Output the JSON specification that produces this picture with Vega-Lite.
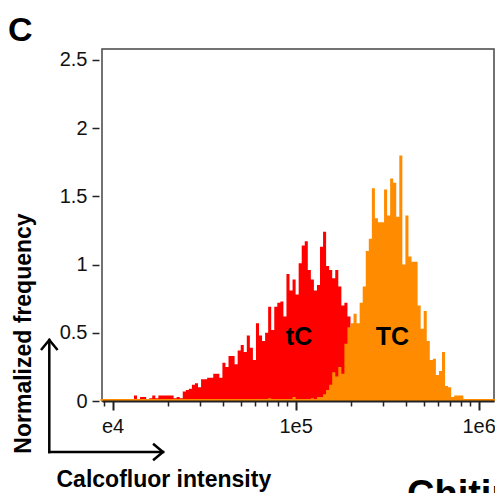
{
  "$schema": "https://vega.github.io/schema/vega-lite/v6.json",
  "width": 392,
  "height": 352,
  "autosize": {"type": "none"},
  "padding": {"left": 102, "top": 49, "right": 1, "bottom": 92},
  "background": "white",
  "title": {"text": "C", "anchor": "start", "frame": "group", "orient": "top", "dx": -94, "dy": 35, "offset": 9, "baseline": "alphabetic", "fontSize": 34, "font": "Liberation Sans", "fontWeight": "bold", "color": "#000"},
  "config": {"view": {"stroke": "#444", "strokeWidth": 1.5}, "font": "Liberation Sans", "axis": {"grid": false}},
  "resolve": {"axis": {"x": "independent", "y": "independent"}},
  "datasets": {
    "hist": [
      {"x": 8577, "tC": 0, "TC": 0.015},
      {"x": 13082, "tC": 0.04, "TC": 0.015},
      {"x": 13594, "tC": 0, "TC": 0.015},
      {"x": 14125, "tC": 0.03, "TC": 0.015},
      {"x": 15252, "tC": 0, "TC": 0.015},
      {"x": 15849, "tC": 0.02, "TC": 0.015},
      {"x": 16469, "tC": 0.04, "TC": 0.015},
      {"x": 17113, "tC": 0.02, "TC": 0.015},
      {"x": 17783, "tC": 0.04, "TC": 0.015},
      {"x": 21544, "tC": 0.02, "TC": 0.015},
      {"x": 22387, "tC": 0.03, "TC": 0.015},
      {"x": 23263, "tC": 0.02, "TC": 0.015},
      {"x": 24173, "tC": 0.07, "TC": 0.015},
      {"x": 25119, "tC": 0.08, "TC": 0.015},
      {"x": 26102, "tC": 0.09, "TC": 0.015},
      {"x": 27123, "tC": 0.12, "TC": 0.015},
      {"x": 28184, "tC": 0.13, "TC": 0.015},
      {"x": 29286, "tC": 0.10, "TC": 0.015},
      {"x": 30432, "tC": 0.16, "TC": 0.015},
      {"x": 32860, "tC": 0.17, "TC": 0.015},
      {"x": 35481, "tC": 0.20, "TC": 0.015},
      {"x": 38312, "tC": 0.17, "TC": 0.015},
      {"x": 39811, "tC": 0.28, "TC": 0.015},
      {"x": 41369, "tC": 0.25, "TC": 0.015},
      {"x": 42987, "tC": 0.33, "TC": 0.015},
      {"x": 46416, "tC": 0.27, "TC": 0.015},
      {"x": 48232, "tC": 0.37, "TC": 0.015},
      {"x": 50119, "tC": 0.41, "TC": 0.015},
      {"x": 52080, "tC": 0.36, "TC": 0.015},
      {"x": 54117, "tC": 0.48, "TC": 0.015},
      {"x": 56234, "tC": 0.39, "TC": 0.015},
      {"x": 58434, "tC": 0.30, "TC": 0.015},
      {"x": 60719, "tC": 0.57, "TC": 0.015},
      {"x": 63096, "tC": 0.48, "TC": 0.015},
      {"x": 65563, "tC": 0.44, "TC": 0.015},
      {"x": 68129, "tC": 0.50, "TC": 0.015},
      {"x": 70795, "tC": 0.69, "TC": 0.02},
      {"x": 73564, "tC": 0.52, "TC": 0.015},
      {"x": 76442, "tC": 0.69, "TC": 0.015},
      {"x": 79433, "tC": 0.72, "TC": 0.015},
      {"x": 82540, "tC": 0.73, "TC": 0.015},
      {"x": 85770, "tC": 0.62, "TC": 0.015},
      {"x": 89125, "tC": 0.93, "TC": 0.015},
      {"x": 92611, "tC": 0.81, "TC": 0.015},
      {"x": 96235, "tC": 0.89, "TC": 0.03},
      {"x": 100000, "tC": 0.78, "TC": 0.015},
      {"x": 103910, "tC": 1.01, "TC": 0.015},
      {"x": 107980, "tC": 1.14, "TC": 0.015},
      {"x": 112200, "tC": 1.17, "TC": 0.015},
      {"x": 116590, "tC": 0.96, "TC": 0.015},
      {"x": 121150, "tC": 0.89, "TC": 0.02},
      {"x": 125890, "tC": 0.81, "TC": 0.015},
      {"x": 130820, "tC": 0.85, "TC": 0.03},
      {"x": 135940, "tC": 1.13, "TC": 0.03},
      {"x": 141250, "tC": 1.24, "TC": 0.05},
      {"x": 146780, "tC": 0.99, "TC": 0.08},
      {"x": 152520, "tC": 0.96, "TC": 0.12},
      {"x": 158490, "tC": 0.90, "TC": 0.21},
      {"x": 164690, "tC": 0.96, "TC": 0.18},
      {"x": 171130, "tC": 0.84, "TC": 0.25},
      {"x": 177830, "tC": 0.70, "TC": 0.20},
      {"x": 184780, "tC": 0.72, "TC": 0.42},
      {"x": 192010, "tC": 0.62, "TC": 0.54},
      {"x": 199530, "tC": 0.45, "TC": 0.57},
      {"x": 207330, "tC": 0.35, "TC": 0.64},
      {"x": 215440, "tC": 0.25, "TC": 0.57},
      {"x": 223870, "tC": 0.15, "TC": 0.72},
      {"x": 232630, "tC": 0.10, "TC": 0.84},
      {"x": 241730, "tC": 0.05, "TC": 1.10},
      {"x": 251190, "tC": 0.03, "TC": 1.19},
      {"x": 261020, "tC": 0, "TC": 1.56},
      {"x": 271230, "tC": 0, "TC": 1.34},
      {"x": 281840, "tC": 0, "TC": 1.31},
      {"x": 304320, "tC": 0, "TC": 1.55},
      {"x": 316230, "tC": 0, "TC": 1.36},
      {"x": 328600, "tC": 0, "TC": 1.63},
      {"x": 341450, "tC": 0, "TC": 1.60},
      {"x": 354810, "tC": 0, "TC": 1.35},
      {"x": 368690, "tC": 0, "TC": 1.80},
      {"x": 383120, "tC": 0, "TC": 1.00},
      {"x": 398110, "tC": 0, "TC": 1.36},
      {"x": 413690, "tC": 0, "TC": 1.06},
      {"x": 429870, "tC": 0, "TC": 1.02},
      {"x": 464160, "tC": 0, "TC": 0.70},
      {"x": 482320, "tC": 0, "TC": 0.53},
      {"x": 501190, "tC": 0, "TC": 0.66},
      {"x": 520800, "tC": 0, "TC": 0.44},
      {"x": 541170, "tC": 0, "TC": 0.30},
      {"x": 562340, "tC": 0, "TC": 0.31},
      {"x": 584340, "tC": 0, "TC": 0.19},
      {"x": 607190, "tC": 0, "TC": 0.22},
      {"x": 630960, "tC": 0, "TC": 0.36},
      {"x": 655630, "tC": 0, "TC": 0.11},
      {"x": 681290, "tC": 0, "TC": 0.10},
      {"x": 707950, "tC": 0, "TC": 0.03},
      {"x": 735640, "tC": 0, "TC": 0.04},
      {"x": 825400, "tC": 0, "TC": 0.015},
      {"x": 1258900, "tC": 0, "TC": 0.015}
    ],
    "arrows": [
      {"x": 4508, "x2": 4508, "y": -0.374, "y2": 0.447},
      {"x": 4508, "x2": 18855, "y": -0.374, "y2": -0.374}
    ],
    "heads": [
      {"x": 4508, "y": 0.447, "dir": "up"},
      {"x": 18855, "y": -0.374, "dir": "right"}
    ],
    "labels": [
      {"x": 104350, "y": 0.466, "label": "tC"},
      {"x": 338350, "y": 0.466, "label": "TC"}
    ],
    "extra": [
      {"x": 406200, "y": -0.777, "label": "Chitin"}
    ]
  },
  "layer": [
    {
      "data": {"name": "hist"},
      "mark": {"type": "area", "interpolate": "step-after", "color": "#FF0000", "opacity": 1},
      "encoding": {
        "x": {"field": "x", "type": "quantitative",
          "scale": {"type": "log", "domain": [8750, 1213800], "nice": false},
          "axis": {
            "orient": "bottom",
            "values": [10000, 100000, 1000000],
            "labelExpr": "datum.value == 10000 ? 'e4' : datum.value == 100000 ? '1e5' : '1e6'",
            "tickSize": 9, "tickWidth": 2,
            "tickColor": "#222", "domainColor": "#222", "domainWidth": 2,
            "labelFontSize": 20, "labelColor": "#111", "labelPadding": 6, "labelFlush": false, "labelOverlap": false, "labelBound": false,
            "title": "Calcofluor intensity", "titleFontSize": 23, "titleFontWeight": "bold", "titleColor": "#000",
            "titleX": -46, "titleY": 85, "titleAlign": "left", "titleBaseline": "alphabetic", "titleAnchor": "start", "zindex": 1
          }
        },
        "y": {"field": "tC", "type": "quantitative",
          "scale": {"domain": [0, 2.58], "nice": false},
          "axis": {
            "orient": "left",
            "values": [0, 0.5, 1, 1.5, 2, 2.5], "labelExpr": "'' + datum.value",
            "domain": false, "offset": 3, "tickSize": 7, "tickWidth": 1.5, "tickColor": "#222",
            "labelFontSize": 20, "labelColor": "#111", "labelPadding": 5,
            "title": "Normalized frequency", "titleFontSize": 23, "titleFontWeight": "bold", "titleColor": "#000",
            "titleX": -69, "titleY": 284, "titleAngle": -90, "titleAlign": "center", "titleBaseline": "alphabetic"
          }
        }
      }
    },
    {
      "data": {"name": "hist"},
      "mark": {"type": "area", "interpolate": "step-after", "color": "#FF8C00", "opacity": 1},
      "encoding": {
        "x": {"field": "x", "type": "quantitative", "scale": {"type": "log", "domain": [8750, 1213800], "nice": false},
          "axis": {
            "orient": "bottom",
            "values": [9000, 20000, 30000, 40000, 50000, 60000, 70000, 80000, 90000, 200000, 300000, 400000, 500000, 600000, 700000, 800000, 900000],
            "labels": false, "domain": false, "title": null,
            "tickSize": 5, "tickWidth": 1.5, "tickColor": "#222", "zindex": 1
          }
        },
        "y": {"field": "TC", "type": "quantitative", "scale": {"domain": [0, 2.58], "nice": false}, "axis": null}
      }
    },
    {
      "data": {"name": "arrows"},
      "mark": {"type": "rule", "strokeWidth": 2.5, "color": "#000", "strokeCap": "square"},
      "encoding": {
        "x": {"field": "x", "type": "quantitative", "scale": {"type": "log", "domain": [8750, 1213800], "nice": false}, "axis": null},
        "x2": {"field": "x2"},
        "y": {"field": "y", "type": "quantitative", "scale": {"domain": [0, 2.58], "nice": false}, "axis": null},
        "y2": {"field": "y2"}
      }
    },
    {
      "data": {"name": "heads"},
      "mark": {"type": "point", "filled": false, "stroke": "#000", "strokeWidth": 2.5, "size": 275, "opacity": 1},
      "encoding": {
        "x": {"field": "x", "type": "quantitative", "scale": {"type": "log", "domain": [8750, 1213800], "nice": false}, "axis": null},
        "y": {"field": "y", "type": "quantitative", "scale": {"domain": [0, 2.58], "nice": false}, "axis": null},
        "shape": {"field": "dir", "type": "nominal", "scale": {"domain": ["up", "right"], "range": ["M-1,1.2L0,0L1,1.2", "M-1.2,-1L0,0L-1.2,1"]}, "legend": null}
      }
    },
    {
      "data": {"name": "labels"},
      "mark": {"type": "text", "fontSize": 25, "fontWeight": "bold", "font": "Liberation Sans", "color": "#000", "align": "center", "baseline": "middle"},
      "encoding": {
        "x": {"field": "x", "type": "quantitative", "scale": {"type": "log", "domain": [8750, 1213800], "nice": false}, "axis": null},
        "y": {"field": "y", "type": "quantitative", "scale": {"domain": [0, 2.58], "nice": false}, "axis": null},
        "text": {"field": "label"}
      }
    },
    {
      "data": {"name": "extra"},
      "mark": {"type": "text", "fontSize": 38, "fontWeight": "bold", "font": "Liberation Sans", "color": "#000", "align": "left", "baseline": "alphabetic"},
      "encoding": {
        "x": {"field": "x", "type": "quantitative", "scale": {"type": "log", "domain": [8750, 1213800], "nice": false}, "axis": null},
        "y": {"field": "y", "type": "quantitative", "scale": {"domain": [0, 2.58], "nice": false}, "axis": null},
        "text": {"field": "label"}
      }
    }
  ]
}
